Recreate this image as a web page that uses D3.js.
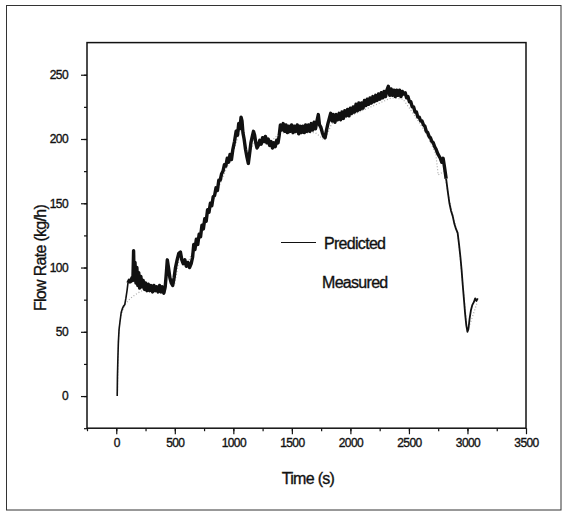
<!DOCTYPE html>
<html>
<head>
<meta charset="utf-8">
<script src="https://cdn.jsdelivr.net/npm/d3@7"></script>
<style>
  body { margin: 0; background: #fff; }
  text { font-family: "Liberation Sans", Arial, sans-serif; fill: #111; stroke: #111; stroke-width: 0.35px; }
</style>
</head>
<body>
<svg id="chart"></svg>
<script>
// predicted flow rate (time s, kg/h)
let predictedTime = [8, 10, 14, 18, 24, 32, 42, 52, 62, 72, 82, 92, 100, 110, 122, 134, 142, 148, 152, 160,
  168, 176, 184, 192, 200, 210, 220, 230, 240, 250, 262, 274, 286, 298, 310, 322, 334, 346, 358, 370,
  382, 394, 406, 418, 428, 436, 446, 458, 470, 482, 494, 506, 520, 534, 548, 560, 572, 586, 598, 612,
  626, 640, 652, 662, 672, 684, 696, 708, 720, 732, 744, 756, 768, 780, 792, 804, 816, 828, 840, 852,
  864, 876, 888, 900, 912, 924, 936, 948, 960, 972, 984, 996, 1010, 1024, 1036, 1046, 1056, 1066, 1074, 1082,
  1092, 1104, 1116, 1128, 1138, 1150, 1162, 1172, 1182, 1192, 1202, 1214, 1226, 1238, 1250, 1262, 1274, 1286, 1298, 1310,
  1322, 1334, 1346, 1358, 1370, 1382, 1392, 1402, 1414, 1426, 1438, 1450, 1462, 1474, 1486, 1498, 1510, 1522, 1534, 1546,
  1558, 1570, 1582, 1594, 1606, 1618, 1630, 1642, 1654, 1666, 1678, 1690, 1702, 1714, 1726, 1736, 1748, 1760, 1772, 1784,
  1796, 1808, 1820, 1832, 1844, 1856, 1868, 1880, 1892, 1904, 1916, 1928, 1940, 1952, 1964, 1976, 1988, 2000, 2012, 2024,
  2036, 2048, 2060, 2072, 2084, 2096, 2108, 2120, 2132, 2144, 2156, 2168, 2180, 2192, 2204, 2216, 2228, 2240, 2252, 2264,
  2276, 2288, 2300, 2312, 2324, 2336, 2348, 2360, 2372, 2384, 2396, 2408, 2420, 2432, 2444, 2456, 2468, 2480, 2492, 2504,
  2516, 2528, 2540, 2552, 2564, 2576, 2588, 2600, 2612, 2624, 2636, 2648, 2660, 2672, 2684, 2696, 2708, 2720, 2732, 2744,
  2756, 2768, 2780, 2792, 2804, 2818, 2832, 2846, 2860, 2874, 2888, 2902, 2916, 2928, 2940, 2950, 2960, 2970, 2980, 2990,
  3000, 3008, 3018, 3030, 3042, 3054, 3066, 3076, 3088];
let predictedFlow = [0, 15, 30, 42, 52, 58, 65, 68, 70, 71, 76, 82, 88, 90, 89, 92, 90, 113, 95, 104,
  88, 100, 86, 96, 84, 93, 85, 90, 83, 88, 82, 87, 82, 86, 81, 86, 82, 85, 81, 86,
  81, 85, 80, 85, 96, 106, 100, 92, 88, 86, 92, 100, 106, 111, 112, 106, 103, 106, 101, 104,
  100, 103, 108, 118, 114, 122, 118, 126, 124, 133, 130, 138, 136, 145, 143, 150, 148, 155, 156, 162,
  160, 168, 168, 173, 175, 180, 179, 185, 182, 188, 184, 192, 198, 206, 203, 212, 208, 217, 214, 205,
  200, 192, 186, 181, 188, 197, 202, 206, 203, 197, 193, 195, 199, 196, 201, 198, 202, 197, 200, 195,
  198, 193, 197, 194, 199, 197, 203, 211, 207, 212, 206, 211, 205, 210, 206, 211, 205, 210, 206, 211,
  204, 210, 205, 210, 205, 211, 206, 211, 206, 212, 207, 213, 208, 214, 219, 211, 209, 205, 202, 201,
  207, 212, 216, 220, 214, 219, 213, 219, 215, 220, 215, 221, 216, 222, 218, 223, 218, 224, 220, 225,
  221, 227, 222, 228, 223, 228, 224, 230, 226, 231, 227, 232, 228, 233, 229, 234, 230, 235, 231, 236,
  232, 237, 233, 238, 241, 234, 239, 234, 238, 233, 238, 234, 238, 233, 237, 235, 236, 232, 233, 229,
  229, 225, 225, 221, 221, 217, 217, 214, 214, 211, 210, 206, 205, 202, 201, 198, 197, 194, 192, 189,
  187, 185, 182, 185, 178, 169, 159, 150, 144, 140, 134, 130, 127, 118, 108, 98, 86, 75, 64, 55,
  50, 52, 60, 67, 71, 73, 76, 74, 76];

// measured flow rate (light dotted trace, mostly hidden under the prediction)
let measuredTime = [10, 14, 20, 30, 45, 60, 80, 100, 120, 150, 180, 220, 300, 420, 440, 470, 500, 540, 600, 660,
  800, 1000, 1050, 1070, 1130, 1180, 1300, 1400, 1500, 1700, 1780, 1840, 2000, 2200, 2350, 2450, 2550, 2650, 2730, 2750,
  2800, 2850, 2920, 3000, 3080];
let measuredFlow = [2, 25, 45, 58, 64, 68, 72, 74, 76, 78, 80, 82, 82, 81, 100, 90, 88, 108, 101, 114,
  146, 190, 205, 210, 185, 200, 196, 205, 204, 205, 199, 212, 218, 226, 232, 231, 218, 204, 188, 172,
  175, 150, 124, 50, 72];

let xTicks = [0, 500, 1000, 1500, 2000, 2500, 3000, 3500];
let yTicks = [0, 50, 100, 150, 200, 250];
let legendLabels = ["Predicted", "Measured"];

let config = { svg: {}, plot: {} };
config.svg.width = 569;
config.svg.height = 512;
config.plot.x = 87;
config.plot.y = 42.6;
config.plot.width = 526 - 87;
config.plot.height = 428.2 - 42.6;

let svg = d3.select("svg#chart")
  .attr("width", config.svg.width)
  .attr("height", config.svg.height);

// outer figure frame
svg.append("rect")
  .attr("x", 6.5).attr("y", 5.5)
  .attr("width", 554.5).attr("height", 504.5)
  .attr("fill", "none").attr("stroke", "#333").attr("stroke-width", 1);

let scale = {};
scale.x = d3.scaleLinear().domain([-250, 3500]).range([0, config.plot.width]);
scale.y = d3.scaleLinear().domain([-25, 275]).range([config.plot.height, 0]);

let plot = svg.append("g").attr("transform", translate(config.plot.x, config.plot.y));

// minor ticks
plot.append("g")
  .attr("transform", translate(0, config.plot.height))
  .call(d3.axisBottom(scale.x).tickValues(d3.range(-250, 3500, 250)).tickSize(3).tickFormat(""))
  .call(g => g.select(".domain").remove());
plot.append("g")
  .call(d3.axisLeft(scale.y).tickValues(d3.range(-25, 275, 25)).tickSize(3).tickFormat(""))
  .call(g => g.select(".domain").remove());

// major ticks
let gx = plot.append("g")
  .attr("transform", translate(0, config.plot.height))
  .call(d3.axisBottom(scale.x).tickValues(xTicks).tickFormat(d3.format("d"))
    .tickSize(6).tickPadding(4).tickSizeOuter(0));
gx.select(".domain").remove();
gx.selectAll("text").attr("font-size", "12px").attr("font-family", "Liberation Sans, Arial, sans-serif")
  .attr("letter-spacing", "-0.6px").attr("fill", "#111");

let gy = plot.append("g")
  .call(d3.axisLeft(scale.y).tickValues(yTicks).tickFormat(d3.format("d"))
    .tickSize(6).tickPadding(13).tickSizeOuter(0));
gy.select(".domain").remove();
gy.selectAll("text").attr("font-size", "12px").attr("font-family", "Liberation Sans, Arial, sans-serif")
  .attr("letter-spacing", "-0.6px").attr("fill", "#111");

svg.selectAll(".tick line").attr("stroke", "#111").attr("stroke-width", 1.2);

// plot box
plot.append("rect")
  .attr("width", config.plot.width).attr("height", config.plot.height)
  .attr("fill", "none").attr("stroke", "#111").attr("stroke-width", 1.5);

let measured = measuredTime.map((t, i) => [t, measuredFlow[i]]);
let predicted = predictedTime.map((t, i) => [t, predictedFlow[i]]);

let line = d3.line().x(d => scale.x(d[0])).y(d => scale.y(d[1]));

plot.append("path")
  .datum(measured)
  .attr("d", line)
  .attr("fill", "none")
  .attr("stroke", "#aaa")
  .attr("stroke-width", 1.2)
  .attr("stroke-dasharray", "1,2");

// the noisy middle part of the prediction reads as a thick band, the ends are thin
let segments = [
  { data: predicted.filter(d => d[0] <= 100), width: 1.6 },
  { data: predicted.filter(d => d[0] >= 100 && d[0] <= 2818), width: 3.4 },
  { data: predicted.filter(d => d[0] >= 2818), width: 1.8 }
];

plot.selectAll("path.predicted")
  .data(segments)
  .enter()
  .append("path")
  .attr("class", "predicted")
  .attr("d", d => line(d.data))
  .attr("fill", "none")
  .attr("stroke", "#111")
  .attr("stroke-width", d => d.width)
  .attr("stroke-linejoin", "round");

// legend
svg.append("line")
  .attr("x1", 281).attr("x2", 316).attr("y1", 242.5).attr("y2", 242.5)
  .attr("stroke", "#111").attr("stroke-width", 1.2);
svg.selectAll("text.legend")
  .data(legendLabels)
  .enter()
  .append("text")
  .attr("class", "legend")
  .attr("x", (d, i) => i === 0 ? 324 : 322)
  .attr("y", (d, i) => i === 0 ? 249 : 288)
  .attr("font-size", "16px")
  .attr("letter-spacing", "-0.7px")
  .text(d => d);

// axis titles
svg.append("text")
  .attr("x", 308).attr("y", 484)
  .attr("text-anchor", "middle")
  .attr("font-size", "16px")
  .attr("letter-spacing", "-0.7px")
  .text("Time (s)");

svg.append("text")
  .attr("transform", "translate(46,258) rotate(-90)")
  .attr("text-anchor", "middle")
  .attr("font-size", "16px")
  .attr("letter-spacing", "-0.7px")
  .text("Flow Rate (kg/h)");

function translate(x, y) {
  return 'translate(' + x + ',' + y + ')';
}
</script>
</body>
</html>
